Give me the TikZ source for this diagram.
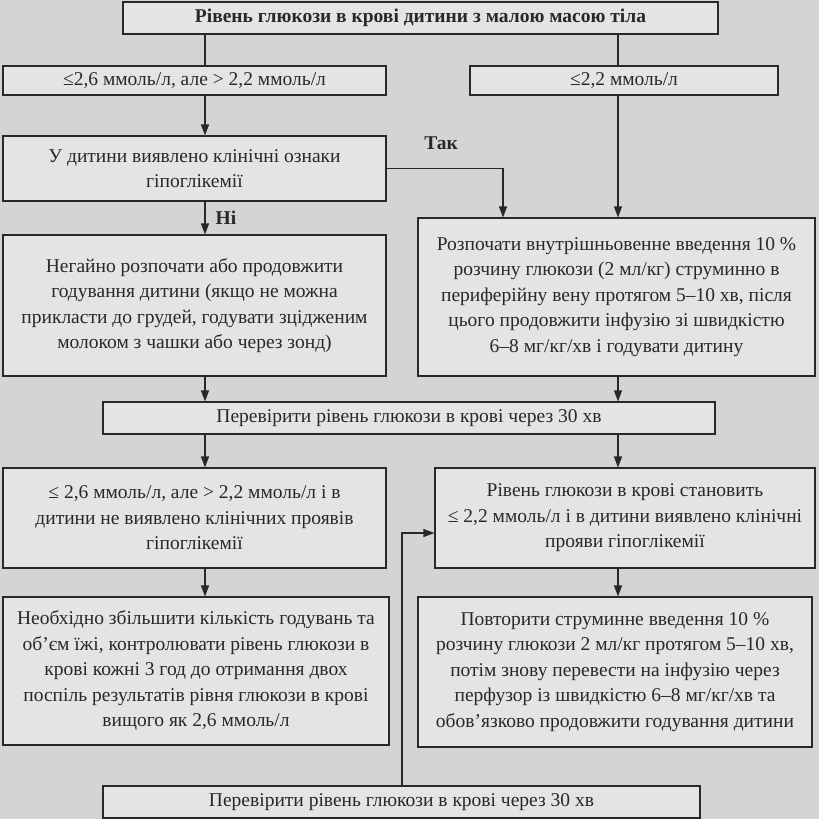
\documentclass[tikz,border=0pt]{standalone}
\usepackage{fontspec}
\setmainfont{Liberation Serif}
\usetikzlibrary{arrows.meta}
\definecolor{bgc}{RGB}{212,212,212}
\definecolor{boxc}{RGB}{228,228,228}
\definecolor{inkc}{RGB}{40,40,40}

\begin{document}
\begin{tikzpicture}[x=1pt,y=-1pt,
    box/.style={draw=inkc,fill=boxc,line width=1.1pt,inner sep=0pt,align=center,text=inkc,font=\fontsize{19.5}{25.5}\selectfont},
    ln/.style={draw=inkc,line width=1.1pt},
    arr/.style={ln,-{Triangle[length=11pt,width=8pt]}},
    lbl/.style={text=inkc,font=\fontsize{19.5}{24}\selectfont\bfseries}]
    % 背景
    \useasboundingbox (0,0) rectangle (819,819);
    \fill[bgc] (0,0) rectangle (819,819);

    % 辅助坐标
    \coordinate (lx) at (205,0); \coordinate (rx) at (618,0);
    \coordinate (yesx) at (503,0); \coordinate (back) at (402,533);

    % 框
    \node[box,minimum width=595pt,minimum height=32pt,font=\fontsize{19.5}{24}\selectfont\bfseries] (title) at (420.5,18) {Рівень глюкози в крові дитини з малою масою тіла};
    \node[box,minimum width=383pt,minimum height=29pt] (low) at (194.5,80.5) {≤2,6 ммоль/л, але > 2,2 ммоль/л};
    \node[box,minimum width=308pt,minimum height=29pt] (vlow) at (624,80.5) {≤2,2 ммоль/л};
    \node[box,minimum width=383pt,minimum height=65pt] (signs) at (194.5,168.5) {У дитини виявлено клінічні ознаки\\гіпоглікемії};
    \node[box,minimum width=383pt,minimum height=141pt] (feed) at (194.5,305.5) {Негайно розпочати або продовжити\\годування дитини (якщо не можна\\прикласти до грудей, годувати зцідженим\\молоком з чашки або через зонд)};
    \node[box,minimum width=397pt,minimum height=158pt] (iv) at (616.5,297) {Розпочати внутрішньовенне введення 10 \%\\розчину глюкози (2 мл/кг) струминно в\\периферійну вену протягом 5–10 хв, після\\цього продовжити інфузію зі швидкістю\\6–8 мг/кг/хв і годувати дитину};
    \node[box,minimum width=612pt,minimum height=32pt] (check) at (409,418) {Перевірити рівень глюкози в крові через 30 хв};
    \node[box,minimum width=383pt,minimum height=100pt] (nosigns) at (194.5,518) {≤ 2,6 ммоль/л, але > 2,2 ммоль/л і в\\дитини не виявлено клінічних проявів\\гіпоглікемії};
    \node[box,minimum width=380pt,minimum height=100pt] (still) at (625,518) {Рівень глюкози в крові становить\\≤ 2,2 ммоль/л і в дитини виявлено клінічні\\прояви гіпоглікемії};
    \node[box,minimum width=386pt,minimum height=148pt] (more) at (196,671) {Необхідно збільшити кількість годувань та\\об’єм їжі, контролювати рівень глюкози в\\крові кожні 3 год до отримання двох\\поспіль результатів рівня глюкози в крові\\вищого як 2,6 ммоль/л};
    \node[box,minimum width=394pt,minimum height=150pt] (repeat) at (615,672) {Повторити струминне введення 10 \%\\розчину глюкози 2 мл/кг протягом 5–10 хв,\\потім знову перевести на інфузію через\\перфузор із швидкістю 6–8 мг/кг/хв та\\обов’язково продовжити годування дитини};
    \node[box,minimum width=597pt,minimum height=32pt] (check2) at (401.5,802) {Перевірити рівень глюкози в крові через 30 хв};

    % 连线
    \draw[ln] (title.south -| lx) -- (low.north -| lx);
    \draw[ln] (title.south -| rx) -- (vlow.north -| rx);
    \draw[arr] (low.south -| lx) -- (signs.north -| lx);
    \draw[arr] (vlow.south -| rx) -- (iv.north -| rx);
    \draw[arr] (signs.east) -| (iv.north -| yesx);
    \node[lbl] (yes) at (441,143) {Так};
    \draw[arr] (signs.south -| lx) -- (feed.north -| lx);
    \node[lbl] (no) at (226,218) {Ні};
    \draw[arr] (feed.south -| lx) -- (check.north -| lx);
    \draw[arr] (iv.south -| rx) -- (check.north -| rx);
    \draw[arr] (check.south -| lx) -- (nosigns.north -| lx);
    \draw[arr] (check.south -| rx) -- (still.north -| rx);
    \draw[arr] (nosigns.south -| lx) -- (more.north -| lx);
    \draw[arr] (still.south -| rx) -- (repeat.north -| rx);
    \draw[arr] (check2.north -| back) -- (back) -- (back -| still.west);
\end{tikzpicture}
\end{document}
